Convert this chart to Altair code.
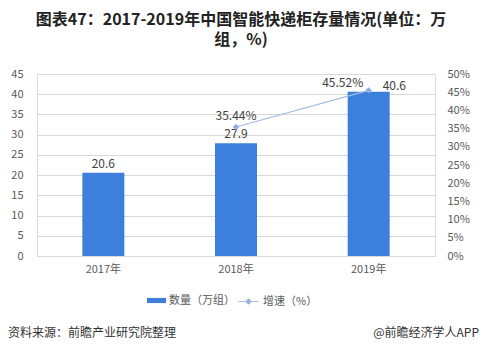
import altair as alt
import pandas as pd

years = ["2017年", "2018年", "2019年"]
counts = [20.6, 27.9, 40.6]
growth = [None, 0.3544, 0.4552]
growth_labels = ["", "35.44%", "45.52%"]
count_labels = ["20.6", "27.9", "40.6"]

FONT = "Noto Sans CJK SC"
BAR_C = "#3d7fdc"
LINE_C = "#a3bce4"
PT_C = "#8cace0"

df = pd.DataFrame({
    "year": years,
    "count": counts,
    "growth": growth,
    "glabel": growth_labels,
    "clabel": count_labels,
    "series_bar": ["数量（万组）"] * 3,
    "series_line": ["增速（%）"] * 3,
})

W, H = 398, 182

x = alt.X("year:N", sort=years, title=None,
          axis=alt.Axis(labelAngle=0, ticks=False, domainColor="#d9d9d9",
                        labelColor="#595959", labelFontSize=11, labelFont=FONT,
                        labelPadding=7))

yl = alt.Y("count:Q", title=None,
           scale=alt.Scale(domain=[0, 45], nice=False),
           axis=alt.Axis(values=list(range(0, 50, 5)), grid=True, gridColor="#d9d9d9",
                         domain=False, ticks=False, labelColor="#595959",
                         labelFontSize=11, labelFont=FONT, labelPadding=14))

base = alt.Chart(df)

bars = base.mark_bar(size=42).encode(
    x=x, y=yl,
    color=alt.Color("series_bar:N", title=None,
                    scale=alt.Scale(domain=["数量（万组）"], range=[BAR_C]),
                    legend=alt.Legend(orient="none", legendX=110, legendY=217,
                                      symbolType="M-1,-0.27H1V0.27H-1Z", symbolSize=360,
                                      labelFont=FONT, labelFontSize=11, labelColor="#595959",
                                      symbolStrokeWidth=0, labelOffset=3)),
)

bar_text_a = base.mark_text(dy=-9, fontSize=12, font=FONT, color="#404040").encode(
    x=x, y=yl, text="clabel:N").transform_filter("datum.year != '2019年'")
bar_text_b = base.mark_text(dx=14, dy=-6, align="left", fontSize=12, font=FONT, color="#404040").encode(
    x=x, y=yl, text="clabel:N").transform_filter("datum.year == '2019年'")

left = alt.layer(bars, bar_text_a, bar_text_b)

yr = alt.Y("growth:Q", title=None,
           scale=alt.Scale(domain=[0, 0.5], nice=False),
           axis=alt.Axis(orient="right", values=[i / 100 for i in range(0, 55, 5)],
                         format=".0%", grid=False, domain=False, ticks=False,
                         labelColor="#595959", labelFontSize=11, labelFont=FONT,
                         labelPadding=12))

lbase = base.transform_filter("isValid(datum.growth)")

line = lbase.mark_line(strokeWidth=1.2).encode(
    x=x, y=yr,
    stroke=alt.Stroke("series_line:N", title=None,
                      scale=alt.Scale(domain=["增速（%）"], range=[LINE_C]),
                      legend=alt.Legend(orient="none", legendX=201, legendY=217,
                                        symbolType="M-1,0H1M0,-0.28L0.28,0L0,0.28L-0.28,0Z",
                                        symbolSize=400, symbolFillColor=PT_C,
                                        symbolStrokeWidth=1,
                                        labelFont=FONT, labelFontSize=11, labelColor="#595959",
                                        labelOffset=4)),
)
pts = lbase.mark_point(shape="diamond", filled=True, size=40, color=PT_C, opacity=1).encode(x=x, y=yr)

pct_a = lbase.mark_text(dy=-11, fontSize=12, font=FONT, color="#404040").encode(
    x=x, y=yr, text="glabel:N").transform_filter("datum.year == '2018年'")
pct_b = lbase.mark_text(dx=-26, dy=-7, fontSize=12, font=FONT, color="#404040").encode(
    x=x, y=yr, text="glabel:N").transform_filter("datum.year == '2019年'")

right = alt.layer(line, pts, pct_a, pct_b)

one = alt.Data(values=[{"k": 1}])
src = alt.Chart(one).mark_text(text="资料来源：前瞻产业研究院整理", align="left", baseline="middle",
                               fontSize=12, font=FONT, color="#333333").encode(
    x=alt.value(-29), y=alt.value(H + 77))
app = alt.Chart(one).mark_text(text="@前瞻经济学人APP", align="right", baseline="middle",
                               fontSize=12, font=FONT, color="#333333").encode(
    x=alt.value(W + 44), y=alt.value(H + 77))

chart = alt.layer(left, right, src, app).resolve_scale(
    y="independent", color="independent", stroke="independent"
).properties(
    width=W, height=H,
    title=alt.TitleParams(
        text="图表47：2017-2019年中国智能快递柜存量情况(单位：万",
        subtitle="组，%)",
        font=FONT, fontSize=16, fontWeight="bold", color="#222222",
        subtitleFont=FONT, subtitleFontSize=16, subtitleFontWeight="bold",
        subtitleColor="#222222", subtitlePadding=4,
        anchor="middle", offset=20, dx=5),
    autosize=alt.AutoSizeParams(type="none"),
    padding={"left": 37, "top": 74, "right": 48, "bottom": 99},
).configure_view(stroke=None).configure(background="white")

chart.save("out.html", embed_options={"renderer": "svg", "actions": False})
